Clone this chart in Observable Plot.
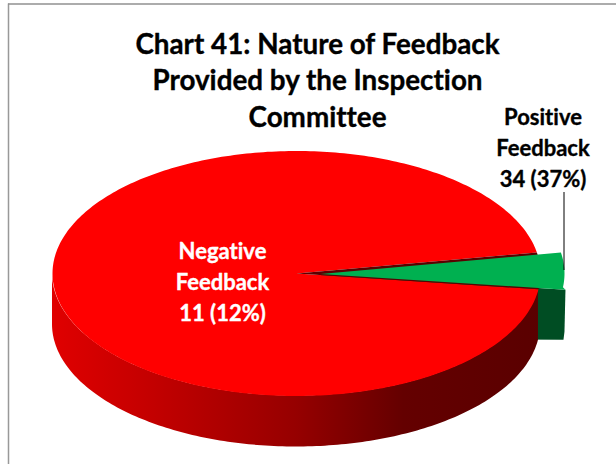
<!DOCTYPE html>
<html>
<head>
<meta charset="utf-8">
<script src="https://cdn.jsdelivr.net/npm/d3@7"></script>
<script src="https://cdn.jsdelivr.net/npm/@observablehq/plot@0.6"></script>
<style>
html,body{margin:0;padding:0;background:#fff}
svg{display:block}
svg text{font-variant-ligatures:none}
</style>
</head>
<body>
<div id="chart"></div>
<script>
// Data
const sliceNames = ["Negative Feedback", "Positive Feedback"];
const sliceCounts = [11, 34];
const slicePercents = [12, 37];
// Shares of the circle the slices actually occupy in the drawing
const drawnShares = [95.2, 4.8];
const sliceFills = ["#ff0000", "#00b050"];
const titleLines = ["Chart 41: Nature of Feedback", "Provided by the Inspection", "Committee"];

// Layout
const W = 616, H = 464;
const cx = 296, cy = 273, rx = 244, ry = 122.5, depth = 51;
const explode = 24;
const startDeg = 7.4; // where the red slice starts, clockwise on screen
const rad = d => d * Math.PI / 180;

const arcs = d3.pie().sort(null).startAngle(rad(startDeg)).endAngle(rad(startDeg + 360))(drawnShares);
const red = arcs[0], green = arcs[1];
const sampleArc = (a0, a1, ox = 0) => {
  const n = Math.max(2, Math.ceil(Math.abs(a1 - a0) / rad(1)));
  return d3.range(n + 1).map(i => {
    const t = a0 + (a1 - a0) * i / n;
    return {x: cx + ox + rx * Math.cos(t), y: cy + ry * Math.sin(t)};
  });
};
const centre = {x: cx, y: cy};
const redTop = [centre, ...sampleArc(red.startAngle, red.endAngle)];
const notch = [centre, ...sampleArc(green.startAngle, green.endAngle)];
const greenArc = sampleArc(green.startAngle, green.endAngle, explode);
const greenApex = {x: cx + explode, y: cy + 0.6};
const lastPt = greenArc[greenArc.length - 1];
const greenTip = {x: lastPt.x + 3, y: lastPt.y + 0.4};
const greenTop = [greenApex, ...greenArc.slice(0, -1), greenTip];

// Front wall of the red slice: lower half of the rim, pushed down by the depth
const redWall = sampleArc(red.startAngle, Math.PI).map(p => ({x: p.x, y1: p.y, y2: p.y + depth}));
// Wall of the green slice: its lower cut face and outer edge
const greenWall = [
  greenApex,
  greenTip,
  {x: greenTip.x - 1, y: greenTip.y + depth - 9},
  {x: greenTip.x - 2, y: greenTip.y + depth - 1},
  {x: greenApex.x, y: greenTip.y + depth - 2}
];

const wallStops = [
  [0, "#e00000"], [0.2, "#c40000"], [0.5, "#960000"], [0.72, "#640000"], [1, "#5a0000"]
];
const defs = (index, {x}) => {
  const d = d3.create("svg:defs");
  const g = d.append("linearGradient").attr("id", "wall").attr("gradientUnits", "userSpaceOnUse")
    .attr("x1", x(cx - rx)).attr("x2", x(cx + rx)).attr("y1", 0).attr("y2", 0);
  wallStops.forEach(([o, c]) => g.append("stop").attr("offset", o).attr("stop-color", c));
  return d.node();
};
const label = i => `${sliceNames[i].replace(" ", "\n")}\n${sliceCounts[i]} (${slicePercents[i]}%)`;
const fill = (pts, f) => Plot.line(pts, {x: "x", y: "y", fill: f, stroke: "none", curve: "linear"});
const textStyle = (x, y, size, colour, lh) => ({
  x, y, fontSize: size, fontWeight: 700, fontFamily: "Lato", fill: colour,
  stroke: colour, strokeWidth: 0.35, lineHeight: lh, textAnchor: "middle"
});

const plot = Plot.plot({
  width: W, height: H, margin: 0,
  x: {domain: [0, W], range: [0, W], axis: null},
  y: {domain: [0, H], range: [0, H], axis: null},
  style: {background: "#fff", overflow: "hidden"},
  marks: [
    defs,
    Plot.ruleX([8], {y1: 3.5, y2: H, stroke: "#999", strokeWidth: 1.5}),
    Plot.ruleY([3.5], {x1: 8, x2: W, stroke: "#909090", strokeWidth: 1.5}),
    fill(greenWall, "#004d23"),
    Plot.areaY(redWall, {x: "x", y1: "y1", y2: "y2", fill: "url(#wall)", curve: "linear"}),
    fill(redTop, sliceFills[0]),
    fill(notch, "#5a0000"),
    fill(greenTop, sliceFills[1]),
    Plot.ruleX([563.5], {y1: 192, y2: 270, stroke: "#000", strokeWidth: 1}),
    Plot.text([titleLines.join("\n")], textStyle(317, 78, 27.8, "#000", 1.31)),
    Plot.text([label(0)], textStyle(222, 280, 22, "#fff", 1.41)),
    Plot.text([label(1)], textStyle(542.5, 146, 22, "#000", 1.41))
  ]
});
document.getElementById("chart").appendChild(plot);
</script>
</body>
</html>
